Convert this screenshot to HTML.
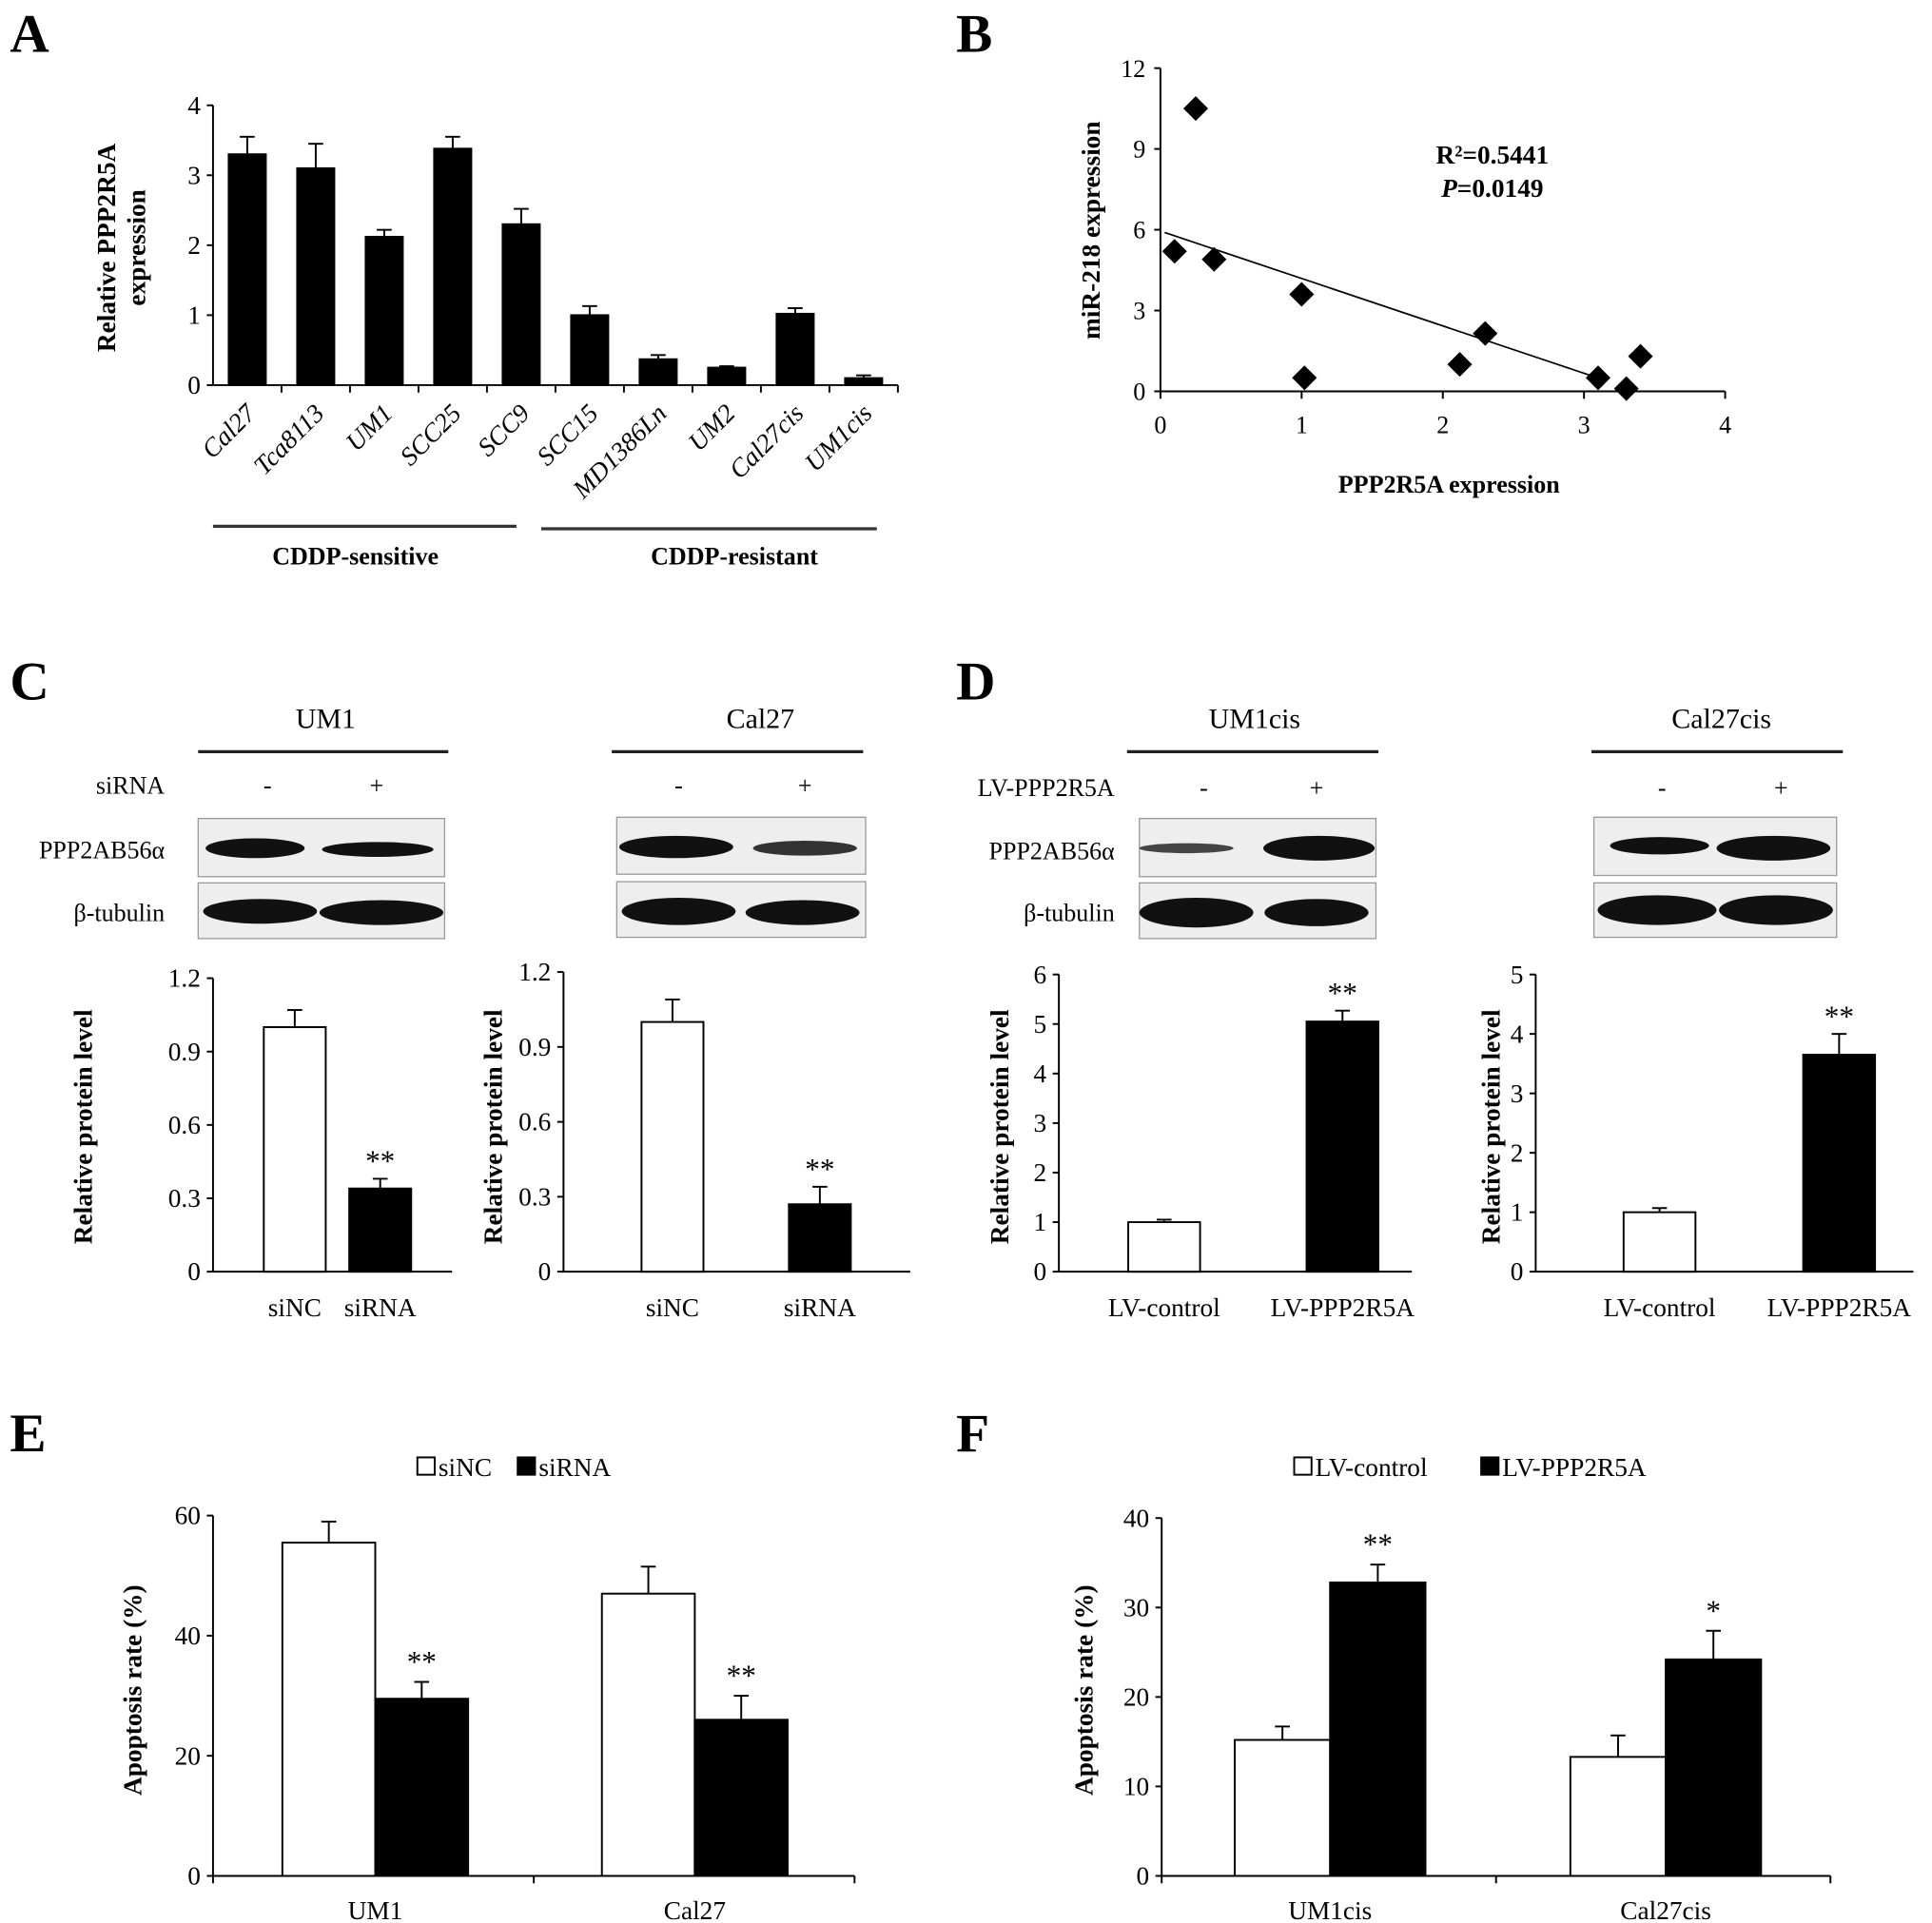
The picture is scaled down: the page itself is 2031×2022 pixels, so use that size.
<!DOCTYPE html>
<html><head><meta charset="utf-8"><style>
html,body{margin:0;padding:0;background:#fff}
svg{display:block;font-family:"Liberation Serif",serif}
</style></head><body>
<svg id="fig" width="2031" height="2022" viewBox="0 0 1560 1553">
<g id="static" fill="#000">
<text x="8" y="42" font-size="44" font-weight="bold">A</text>
<text x="772" y="42" font-size="44" font-weight="bold">B</text>
<text x="8" y="565" font-size="44" font-weight="bold">C</text>
<text x="772" y="565" font-size="44" font-weight="bold">D</text>
<text x="8" y="1172" font-size="44" font-weight="bold">E</text>
<text x="772" y="1172" font-size="44" font-weight="bold">F</text>

<line x1="172" y1="425" x2="417" y2="425" stroke="#333" stroke-width="2.5"/>
<line x1="437" y1="427" x2="708" y2="427" stroke="#333" stroke-width="2.5"/>
<text x="287" y="456" font-size="20" font-weight="bold" text-anchor="middle">CDDP-sensitive</text>
<text x="593" y="456" font-size="20" font-weight="bold" text-anchor="middle">CDDP-resistant</text>

<g font-size="23" text-anchor="middle">
<text x="263" y="588">UM1</text>
<text x="614" y="588">Cal27</text>
<text x="1013" y="588">UM1cis</text>
<text x="1390" y="588">Cal27cis</text>
</g>
<g stroke="#222" stroke-width="2.5">
<line x1="160" y1="607" x2="362" y2="607"/><line x1="494" y1="607" x2="697" y2="607"/>
<line x1="910" y1="607" x2="1113" y2="607"/><line x1="1285" y1="607" x2="1488" y2="607"/>
</g>
<g font-size="20">
<text x="133" y="641" text-anchor="end">siRNA</text>
<text x="216" y="641" text-anchor="middle">-</text><text x="304" y="641" text-anchor="middle">+</text>
<text x="548" y="641" text-anchor="middle">-</text><text x="650" y="641" text-anchor="middle">+</text>
<text x="900" y="643" text-anchor="end">LV-PPP2R5A</text>
<text x="972" y="643" text-anchor="middle">-</text><text x="1063" y="643" text-anchor="middle">+</text>
<text x="1342" y="643" text-anchor="middle">-</text><text x="1438" y="643" text-anchor="middle">+</text>
<text x="133" y="693" text-anchor="end">PPP2AB56α</text>
<text x="133" y="744" text-anchor="end">β-tubulin</text>
<text x="900" y="694" text-anchor="end">PPP2AB56α</text>
<text x="900" y="744" text-anchor="end">β-tubulin</text>
</g>
<g>
<rect x="160" y="661" width="199" height="47" fill="#eee" stroke="#999"/>
<rect x="160" y="713" width="199" height="45" fill="#eee" stroke="#999"/>
<rect x="498" y="660" width="201" height="46" fill="#eee" stroke="#999"/>
<rect x="498" y="712" width="201" height="45" fill="#eee" stroke="#999"/>
<rect x="920" y="661" width="191" height="47" fill="#eee" stroke="#999"/>
<rect x="920" y="713" width="191" height="45" fill="#eee" stroke="#999"/>
<rect x="1287" y="660" width="196" height="47" fill="#eee" stroke="#999"/>
<rect x="1287" y="713" width="196" height="44" fill="#eee" stroke="#999"/>
<g fill="#111">
<ellipse cx="206" cy="685" rx="40" ry="8"/><ellipse cx="305" cy="686" rx="45" ry="6"/>
<ellipse cx="210" cy="736" rx="46" ry="10"/><ellipse cx="308" cy="737" rx="50" ry="10"/>
<ellipse cx="546" cy="684" rx="46" ry="9"/><ellipse cx="650" cy="685" rx="42" ry="6" fill="#333"/>
<ellipse cx="548" cy="736" rx="46" ry="11"/><ellipse cx="648" cy="737" rx="46" ry="10"/>
<ellipse cx="958" cy="685" rx="38" ry="4" fill="#444"/><ellipse cx="1065" cy="685" rx="45" ry="10"/>
<ellipse cx="966" cy="737" rx="46" ry="12"/><ellipse cx="1063" cy="737" rx="42" ry="11"/>
<ellipse cx="1340" cy="683" rx="40" ry="7"/><ellipse cx="1432" cy="685" rx="46" ry="10"/>
<ellipse cx="1338" cy="735" rx="48" ry="12"/><ellipse cx="1434" cy="735" rx="46" ry="12"/>
</g></g>
</g>
<g id="charts"></g>
</svg>
<script>
// ---- Panel A data ----
const aCategories = ["Cal27","Tca8113","UM1","SCC25","SCC9","SCC15","MD1386Ln","UM2","Cal27cis","UM1cis"];
const aValues = [3.3,3.1,2.12,3.38,2.3,1.0,0.37,0.25,1.02,0.1];
const aErrors = [0.25,0.35,0.1,0.17,0.22,0.13,0.06,0.02,0.08,0.04];
const aTicks = [0,1,2,3,4];
// ---- Panel B data ----
const bX = [0.1,0.25,0.38,1.0,1.02,2.12,2.3,3.1,3.3,3.4];
const bY = [5.2,10.5,4.9,3.6,0.5,1.0,2.15,0.5,0.1,1.3];
const bXTicks = [0,1,2,3,4];
const bYTicks = [0,3,6,9,12];
const bFitIntercept = 5.95;
const bFitSlope = -1.76;
// ---- Panel C data ----
const cCategories = ["siNC","siRNA"];
const c1Values = [1.0,0.34];
const c1Errors = [0.07,0.04];
const c2Values = [1.0,0.27];
const c2Errors = [0.09,0.07];
const cTicks = ["0","0.3","0.6","0.9","1.2"];
const cSig = ["","**"];
// ---- Panel D data ----
const dCategories = ["LV-control","LV-PPP2R5A"];
const d1Values = [1.0,5.05];
const d1Errors = [0.05,0.22];
const d1Ticks = [0,1,2,3,4,5,6];
const d2Values = [1.0,3.65];
const d2Errors = [0.07,0.35];
const d2Ticks = [0,1,2,3,4,5];
// ---- Panel E data ----
const eGroups = ["UM1","Cal27"];
const eSeries = ["siNC","siRNA"];
const eWhite = [55.5,47];
const eWhiteErr = [3.5,4.5];
const eBlack = [29.5,26];
const eBlackErr = [2.8,4];
const eSig = ["**","**"];
const eTicks = [0,20,40,60];
// ---- Panel F data ----
const fGroups = ["UM1cis","Cal27cis"];
const fSeries = ["LV-control","LV-PPP2R5A"];
const fWhite = [15.2,13.3];
const fWhiteErr = [1.5,2.4];
const fBlack = [32.8,24.2];
const fBlackErr = [2.0,3.2];
const fSig = ["**","*"];
const fTicks = [0,10,20,30,40];

const NS="http://www.w3.org/2000/svg";
const root=document.getElementById('charts');
function mk(tag,attrs,parent,txt){const e=document.createElementNS(NS,tag);for(const k in attrs)e.setAttribute(k,attrs[k]);if(txt!==undefined)e.textContent=txt;(parent||root).appendChild(e);return e;}
function grp(name){const g=mk('g',{});


return g;}
function linear(d0,d1,r0,r1){return v=>r0+(v-d0)/(d1-d0)*(r1-r0);}

function yAxis(g,x,y0,y1,ticks,max,fs){
  const s=linear(0,max,y0,y1);
  mk('line',{x1:x,y1:y0,x2:x,y2:y1,stroke:'#000','stroke-width':1.5},g);
  ticks.forEach(t=>{const v=parseFloat(t);const y=s(v);
    mk('line',{x1:x-5,y1:y,x2:x,y2:y,stroke:'#000','stroke-width':1.5},g);
    const tl=mk('text',{x:x-10,y:y+7,'font-size':fs||21,'text-anchor':'end'},g,String(t));
    
    
  });
  return s;
}
function ytitle(g,x,cy,lines,fs){
  lines.forEach((l,i)=>{const t=mk('text',{x:0,y:0,'font-size':fs||21,'font-weight':'bold','text-anchor':'middle',transform:`translate(${x+i*24},${cy}) rotate(-90)`},g,l);
  
  });
}
function bar(g,cx,w,y0,s,v,e,fill,name){
  const r=mk('rect',{x:cx-w/2,y:s(v),width:w,height:y0-s(v),fill:fill,stroke:'#000','stroke-width':1.5},g);
  
  
  const top=s(v+e);
  mk('line',{x1:cx,y1:s(v),x2:cx,y2:top,stroke:'#000','stroke-width':1.5},g);
  mk('line',{x1:cx-6,y1:top,x2:cx+6,y2:top,stroke:'#000','stroke-width':1.5},g);
  return top;
}

// Panel A
(function(){
  const g=grp('chart-a');
  const x0=172,x1=725,y0=311;
  const s=yAxis(g,x0,y0,85,aTicks,4,21);
  mk('line',{x1:x0,y1:y0,x2:x1,y2:y0,stroke:'#000','stroke-width':1.5},g);
  const cw=(x1-x0)/aCategories.length;
  aCategories.forEach((c,i)=>{
    const cx=x0+cw*(i+0.5);
    mk('line',{x1:x0+cw*(i+1),y1:y0,x2:x0+cw*(i+1),y2:y0+6,stroke:'#000','stroke-width':1.5},g);
    bar(g,cx,30,y0,s,aValues[i],aErrors[i],'#000','bar-'+c.toLowerCase());
    const t=mk('text',{x:0,y:0,'font-size':21,'font-style':'italic','text-anchor':'end',transform:`translate(${cx+8},${y0+24}) rotate(-45)`},g,c);
    
    
  });
  ytitle(g,93,200,['Relative PPP2R5A','expression'],21);
})();

// Panel B
(function(){
  const g=grp('chart-b');
  const xs=linear(0,4,937,1393), ys=linear(0,12,316,55);
  mk('line',{x1:937,y1:316,x2:937,y2:55,stroke:'#000','stroke-width':1.5},g);
  mk('line',{x1:937,y1:316,x2:1393,y2:316,stroke:'#000','stroke-width':1.5},g);
  bYTicks.forEach(t=>{const y=ys(t);mk('line',{x1:932,y1:y,x2:937,y2:y,stroke:'#000','stroke-width':1.5},g);
    const tl=mk('text',{x:925,y:y+7,'font-size':20,'text-anchor':'end'},g,String(t));
    
    });
  bXTicks.forEach(t=>{const x=xs(t);mk('line',{x1:x,y1:316,x2:x,y2:322,stroke:'#000','stroke-width':1.5},g);
    const tl=mk('text',{x:x,y:350,'font-size':20,'text-anchor':'middle'},g,String(t));
    
    });
  const fx0=0.03,fx1=3.1;
  const tr=mk('line',{x1:xs(fx0),y1:ys(bFitIntercept+bFitSlope*fx0),x2:xs(fx1),y2:ys(bFitIntercept+bFitSlope*fx1),stroke:'#000','stroke-width':1.3},g);
  
  
  bX.forEach((v,i)=>{const x=xs(v),y=ys(bY[i]);
    const p=mk('polygon',{points:`${x},${y-10} ${x+10},${y} ${x},${y+10} ${x-10},${y}`,fill:'#000'},g);
    
    });
  mk('text',{x:1205,y:132,'font-size':21,'font-weight':'bold','text-anchor':'middle'},g,'R²=0.5441');
  const pt=mk('text',{x:1205,y:159,'font-size':21,'font-weight':'bold','text-anchor':'middle'},g);
  mk('tspan',{'font-style':'italic'},pt,'P');mk('tspan',{},pt,'=0.0149');
  const xt=mk('text',{x:1170,y:398,'font-size':20,'font-weight':'bold','text-anchor':'middle'},g,'PPP2R5A expression');
  
  
  ytitle(g,888,186,['miR-218 expression'],21);
})();

function twoBar(name,ax,axEnd,ytop,max,ticks,cats,vals,errs,centers,w,titleX){
  const g=grp(name);
  const y0=1027;
  const s=yAxis(g,ax,y0,ytop,ticks,max,21);
  mk('line',{x1:ax,y1:y0,x2:axEnd,y2:y0,stroke:'#000','stroke-width':1.5},g);
  cats.forEach((c,i)=>{
    const top=bar(g,centers[i],w,y0,s,vals[i],errs[i],i===0?'#fff':'#000','bar-'+c.toLowerCase());
    if(i===1) mk('text',{x:centers[i],y:top-6,'font-size':24,'text-anchor':'middle'},g,'**');
    const tl=mk('text',{x:centers[i],y:1063,'font-size':21,'text-anchor':'middle'},g,c);
    
    
  });
  ytitle(g,titleX,910,['Relative protein level'],21);
}
twoBar('chart-c1',172,365,790,1.2,cTicks,cCategories,c1Values,c1Errors,[238,307],50,74);
twoBar('chart-c2',455,735,785,1.2,cTicks,cCategories,c2Values,c2Errors,[543,662],50,405);
twoBar('chart-d1',855,1140,787,6,d1Ticks,dCategories,d1Values,d1Errors,[940,1084],58,814);
twoBar('chart-d2',1240,1545,787,5,d2Ticks,dCategories,d2Values,d2Errors,[1340,1485],58,1211);

function groupChart(name,ax,axEnd,ytop,max,ticks,groups,series,wv,we,bv,be,sig,gcenters,bw,legendX,titleX){
  const g=grp(name);
  const y0=1515;
  const s=yAxis(g,ax,y0,ytop,ticks,max,21);
  mk('line',{x1:ax,y1:y0,x2:axEnd,y2:y0,stroke:'#000','stroke-width':1.5},g);
  const mid=(ax+axEnd)/2;
  [ax,mid,axEnd].forEach(x=>mk('line',{x1:x,y1:y0,x2:x,y2:y0+6,stroke:'#000','stroke-width':1.5},g));
  groups.forEach((gr,i)=>{
    const c=gcenters[i];
    bar(g,c-bw/2,bw,y0,s,wv[i],we[i],'#fff','bar-'+gr.toLowerCase()+'-'+series[0].toLowerCase());
    const top=bar(g,c+bw/2,bw,y0,s,bv[i],be[i],'#000','bar-'+gr.toLowerCase()+'-'+series[1].toLowerCase());
    mk('text',{x:c+bw/2,y:top-8,'font-size':24,'text-anchor':'middle'},g,sig[i]);
    const tl=mk('text',{x:c,y:1550,'font-size':21,'text-anchor':'middle'},g,gr);
    
    
  });
  ytitle(g,titleX,1365,['Apoptosis rate (%)'],21);
  series.forEach((sname,i)=>{
    const lg=mk('g',{},g);
    
    
    mk('rect',{x:legendX[i],y:1177,width:14,height:14,fill:i===0?'#fff':'#000',stroke:'#000','stroke-width':1.5},lg);
    mk('text',{x:legendX[i]+17,y:1192,'font-size':21},lg,sname);
  });
}
groupChart('chart-e',172,690,1224,60,eTicks,eGroups,eSeries,eWhite,eWhiteErr,eBlack,eBlackErr,eSig,[303,561],75,[337,418],114);
groupChart('chart-f',938,1478,1226,40,fTicks,fGroups,fSeries,fWhite,fWhiteErr,fBlack,fBlackErr,fSig,[1074,1345],77,[1045,1196],882);
</script>
</body></html>
